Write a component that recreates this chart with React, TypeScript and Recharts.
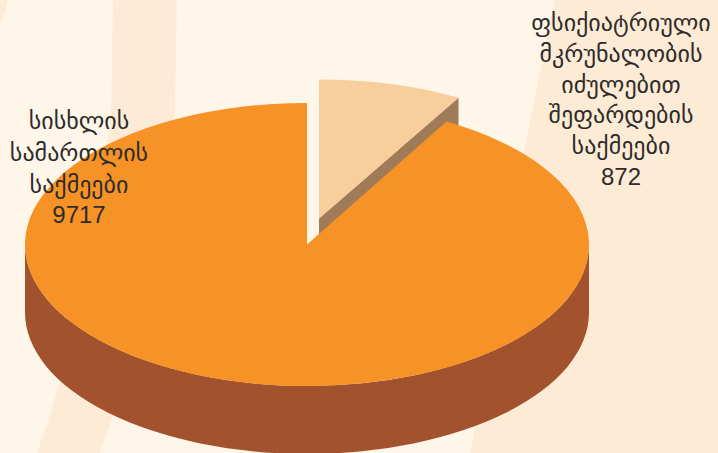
import React from 'react';
import { PieChart, Pie, Sector } from 'recharts';

const categories = ['ფსიქიატრიული მკურნალობის იძულებით შეფარდების საქმეები', 'სისხლის სამართლის საქმეები'];
const values = [872, 9717];
const labelLines = [
  ['ფსიქიატრიული', 'მკრუნალობის', 'იძულებით', 'შეფარდების', 'საქმეები'],
  ['სისხლის', 'სამართლის', 'საქმეები'],
];
const topColors = ['#F8CE9D', '#F79227'];
const sideColors = ['#9F7B58', '#A2532E'];

const tableData = categories.map((name, i) => ({ name, value: values[i], fill: topColors[i] }));

const W = 718;
const H = 453;
const CX = 307;
const CY = 244.5;
const R = 282;
const TILT = 0.5018;
const DEPTH = 68;
const GEOMETRY = [
  { dx: 12, dy: -26, rScale: 1, tilt: 0.493 },
  { dx: 0, dy: 0, rScale: 1, tilt: TILT },
];
const LABEL_POS = [
  { x: 621, y: 31, step: 30.75, valueGap: 31 },
  { x: 79, y: 129, step: 32, valueGap: 30 },
];
const RAD = Math.PI / 180;

function SliceShape(props: any) {
  const { cx, cy, outerRadius, startAngle, endAngle, index } = props;
  const g = GEOMETRY[index];
  const r = outerRadius * g.rScale;
  const tf = `translate(${g.dx} ${cy + g.dy}) scale(1 ${g.tilt}) translate(0 ${-cy})`;
  const d = DEPTH / g.tilt;
  let side: string;
  if (index === 1) {
    side = `M${cx - r},${cy} A${r},${r} 0 0 0 ${cx + r},${cy} L${cx + r},${cy + d} A${r},${r} 0 0 1 ${cx - r},${cy + d} Z`;
  } else {
    const a = Math.min(startAngle, endAngle) * RAD;
    const px = cx + r * Math.cos(a);
    const py = cy - r * Math.sin(a);
    side = `M${cx},${cy} L${px},${py} L${px},${py + d} L${cx},${cy + d} Z`;
  }
  return (
    <g transform={tf}>
      <path d={side} fill={sideColors[index]} />
      <Sector
        cx={cx}
        cy={cy}
        innerRadius={0}
        outerRadius={r}
        startAngle={startAngle}
        endAngle={endAngle}
        fill={topColors[index]}
        stroke="none"
      />
    </g>
  );
}

function SliceLabel(props: any) {
  const { index, value } = props;
  const pos = LABEL_POS[index];
  const lines = labelLines[index];
  return (
    <text x={pos.x} y={pos.y} textAnchor="middle" fill="#2E2C2B" stroke="none">
      {lines.map((l, i) => (
        <tspan key={i} x={pos.x} y={pos.y + i * pos.step} style={{ fontFamily: '"DejaVu Sans"', fontSize: 24 }}>
          {l}
        </tspan>
      ))}
      <tspan
        x={pos.x}
        y={pos.y + (lines.length - 1) * pos.step + pos.valueGap}
        style={{ fontFamily: '"Liberation Sans"', fontSize: 24 }}
      >
        {value}
      </tspan>
    </text>
  );
}

export default function App() {
  return (
    <div style={{ position: 'absolute', left: 0, top: 0, width: W, height: H, overflow: 'hidden', background: '#FFF6EA' }}>
      <svg width={W} height={H} style={{ position: 'absolute', left: 0, top: 0 }}>
        <path d="M0,0 L8,0 Q5,14 0,25 Z" fill="#FEEBD5" />
        <path d="M113,0 L177,0 L175,110 Q165,270 100,453 L37,453 Q95,290 111,110 Z" fill="#FEEBD5" />
        <path d="M555,0 L718,0 L718,453 L470,453 Q505,300 522,160 Z" fill="#FEEBD5" />
      </svg>
      <div style={{ position: 'absolute', left: 0, top: 0 }}>
        <PieChart width={W} height={H} margin={{ top: 0, right: 0, bottom: 0, left: 0 }}>
          <Pie
            data={tableData}
            dataKey="value"
            nameKey="name"
            cx={CX}
            cy={CY}
            innerRadius={0}
            outerRadius={R}
            startAngle={90}
            endAngle={-270}
            stroke="none"
            shape={SliceShape}
            label={SliceLabel}
            labelLine={false}
            isAnimationActive={false}
          />
        </PieChart>
      </div>
    </div>
  );
}
